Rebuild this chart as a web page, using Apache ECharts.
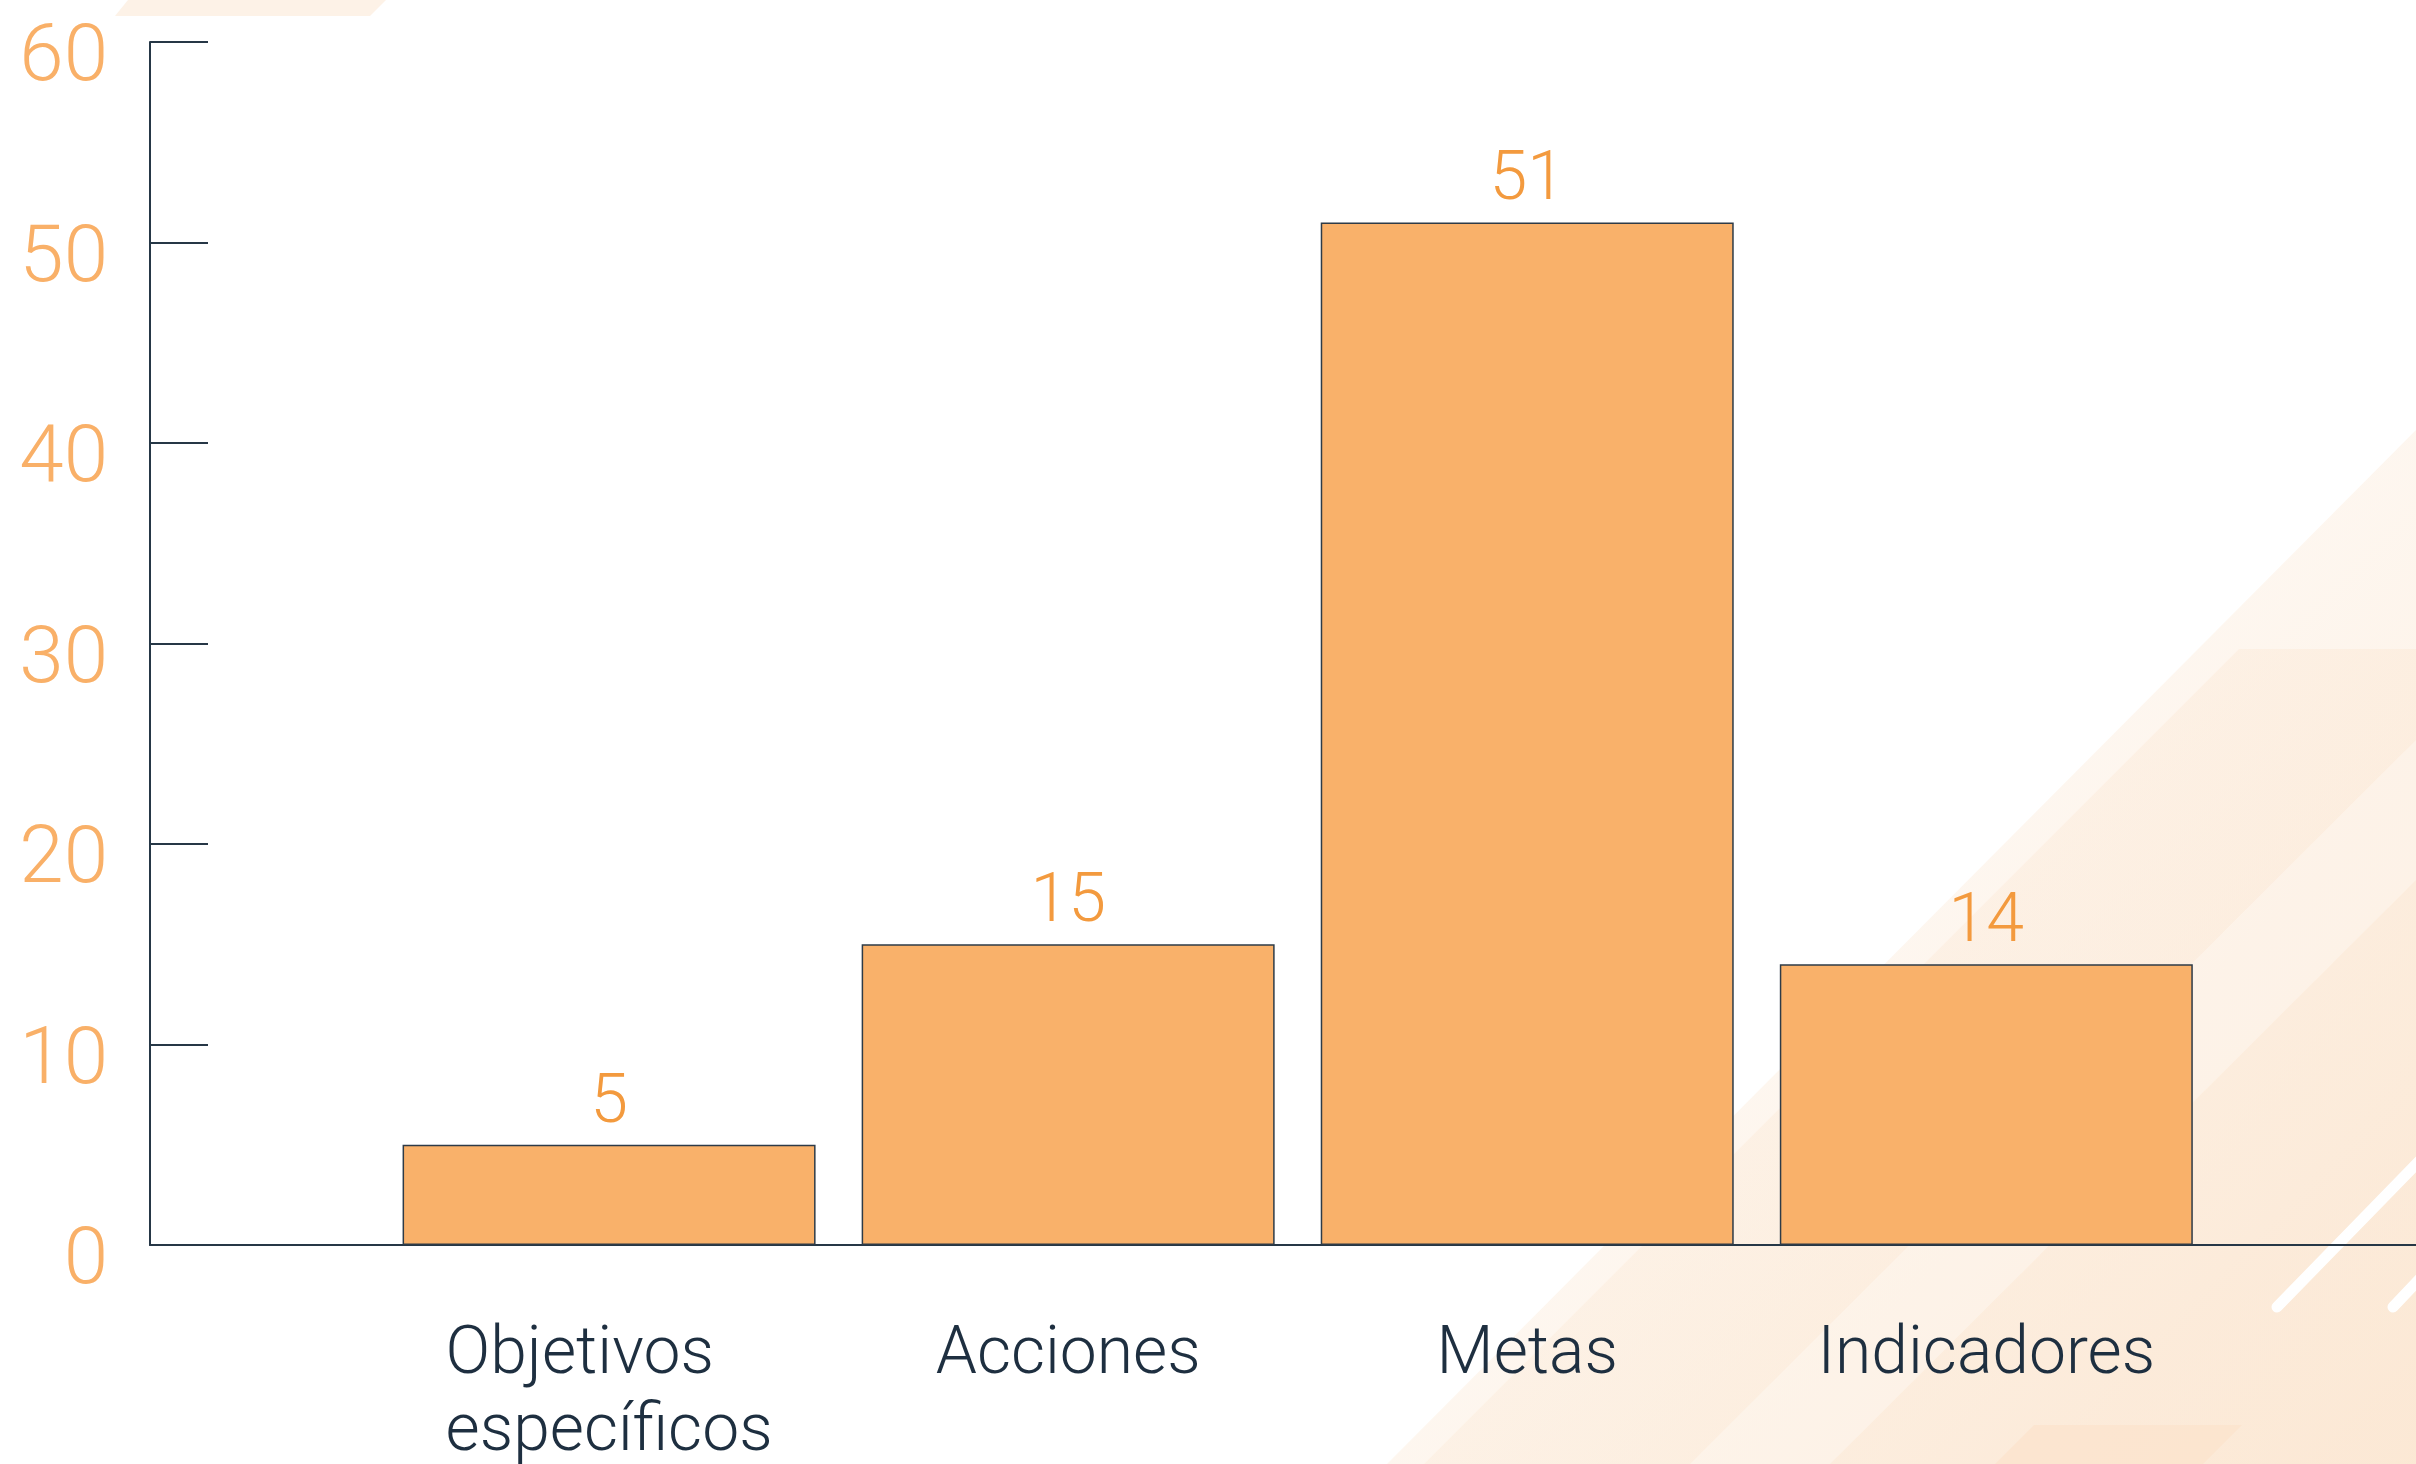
<!DOCTYPE html>
<html>
<head>
<meta charset="utf-8">
<script src="https://cdn.jsdelivr.net/npm/echarts@6/dist/echarts.min.js"></script>
<style>
html,body{margin:0;padding:0;background:#ffffff;}
#chart{width:2416px;height:1464px;}
</style>
</head>
<body>
<div id="chart"></div>
<script>
var categories = ['Objetivos específicos', 'Acciones', 'Metas', 'Indicadores'];
var values = [5, 15, 51, 14];
var yTicks = [0, 10, 20, 30, 40, 50, 60];

var barData = values.map(function (v, i) { return [i, v]; });

var chart = echarts.init(document.getElementById('chart'), null, {renderer: 'canvas'});

var option = {
  backgroundColor: '#ffffff',
  animation: false,
  graphic: {
    elements: [
      {type: 'polygon', z: -10, silent: true,
       shape: {points: [[128,0],[386,0],[370,16],[115,16]]},
       style: {fill: '#FDF2E7'}},
      {type: 'polygon', z: -10, silent: true,
       shape: {points: [[1387,1464],[2416,430],[2416,1464]]},
       style: {fill: new echarts.graphic.LinearGradient(0, 0, 1, 1, [
         {offset: 0, color: 'rgba(252,236,220,0)'},
         {offset: 0.5, color: 'rgba(252,236,220,0.45)'},
         {offset: 1, color: 'rgba(252,232,212,0.85)'}])}},
      {type: 'polygon', z: -9, silent: true,
       shape: {points: [[2239,649],[2416,649],[2416,1464],[1424,1464]]},
       style: {fill: new echarts.graphic.LinearGradient(0, 0, 1, 1, [
         {offset: 0, color: 'rgba(251,230,209,0.12)'},
         {offset: 1, color: 'rgba(251,230,209,0.6)'}])}},
      {type: 'polygon', z: -9, silent: true,
       shape: {points: [[2416,740],[2416,880],[1830,1464],[1690,1464]]},
       style: {fill: 'rgba(255,255,255,0.3)'}},
      {type: 'polygon', z: -8, silent: true,
       shape: {points: [[2034,1425],[2242,1425],[2203,1464],[1995,1464]]},
       style: {fill: 'rgba(251,228,205,0.8)'}},
      {type: 'line', z: -7, silent: true,
       shape: {x1: 2277, y1: 1307, x2: 2430, y2: 1150},
       style: {stroke: '#ffffff', lineWidth: 11, lineCap: 'round'}},
      {type: 'line', z: -7, silent: true,
       shape: {x1: 2393, y1: 1307, x2: 2430, y2: 1268},
       style: {stroke: '#ffffff', lineWidth: 11, lineCap: 'round'}}
    ]
  },
  grid: {left: 150, right: 0, top: 42, bottom: 219, containLabel: false, outerBoundsMode: 'none'},
  xAxis: {
    type: 'value',
    min: -1,
    max: 3.936,
    interval: 1,
    splitLine: {show: false},
    axisTick: {show: false},
    axisLine: {show: true, onZero: false, lineStyle: {color: '#263746', width: 2}},
    axisLabel: {
      show: true,
      margin: 73,
      showMaxLabel: false,
      verticalAlign: 'top',
      formatter: function (v) {
        var name = categories[Math.round(v)];
        if (v < 0 || name === undefined) return '';
        return name.split(' ').map(function (w) { return '{c|' + w + '}'; }).join('\n');
      },
      rich: {
        c: {
          align: 'left',
          fontFamily: 'Roboto',
          fontWeight: 300,
          fontSize: 66,
          lineHeight: 77,
          color: '#1E2F40'
        }
      }
    }
  },
  yAxis: {
    type: 'value',
    min: yTicks[0],
    max: yTicks[yTicks.length - 1],
    interval: 10,
    splitLine: {show: false},
    axisLine: {show: true, onZero: false, lineStyle: {color: '#263746', width: 2}},
    axisTick: {show: true, inside: true, length: 58, lineStyle: {color: '#263746', width: 2}},
    axisLabel: {
      margin: 42,
      formatter: function (v) { return '{v|' + v + '}'; },
      rich: {
        v: {
          fontFamily: 'Roboto',
          fontWeight: 300,
          fontSize: 80,
          lineHeight: 80,
          color: '#F9B068',
          padding: [36, 0, 0, 0]
        }
      }
    }
  },
  series: [{
    type: 'bar',
    data: barData,
    barWidth: 413,
    itemStyle: {color: '#F9B16A', borderColor: '#2E3B47', borderWidth: 1.5},
    label: {
      show: true,
      position: 'top',
      distance: 6,
      fontFamily: 'Roboto',
      fontWeight: 300,
      fontSize: 68,
      color: '#F39A3E',
      formatter: function (p) { return String(p.value[1]); }
    }
  }]
};
chart.setOption(option);
</script>
</body>
</html>
